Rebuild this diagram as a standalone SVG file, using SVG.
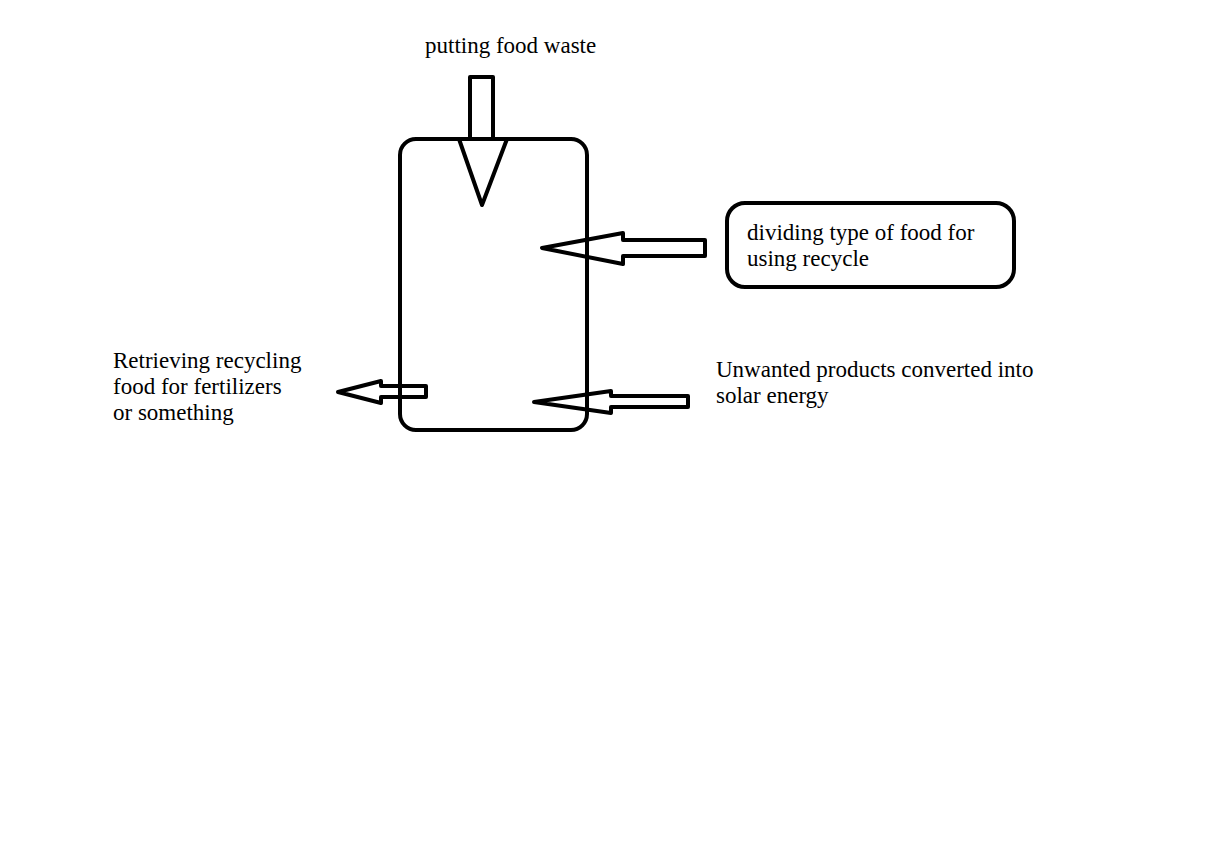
<svg xmlns="http://www.w3.org/2000/svg" width="1229" height="849" viewBox="0 0 1229 849">
<style>
.s{fill:none;stroke:#000;stroke-width:4;stroke-linejoin:round;stroke-linecap:round}
text{font-family:"Liberation Serif","Times New Roman",serif;font-size:23px;fill:#000}
</style>
<rect width="1229" height="849" fill="#fff"/>
<g id="container">
<rect class="s" x="400" y="139" width="187" height="291" rx="16" ry="16"/>
</g>
<g id="info-box">
<rect class="s" x="727" y="203" width="287" height="84" rx="18" ry="18"/>
<text x="747" y="240">dividing type of food for</text>
<text x="747" y="266">using recycle</text>
</g>
<g id="label-top"><text x="425" y="53">putting food waste</text></g>
<g id="label-left">
<text x="113" y="368">Retrieving recycling</text>
<text x="113" y="394">food for fertilizers</text>
<text x="113" y="420">or something</text>
</g>
<g id="label-right">
<text x="716" y="377">Unwanted products converted into</text>
<text x="716" y="403">solar energy</text>
</g>
<g id="connectors">
<path class="s" d="M470,139 V77 H493 V139"/>
<path class="s" d="M459,139 L482,205 L507,139"/>
<path class="s" d="M705,240 H623 V233 L542,248 L623,264 V256 H705 Z"/>
<path class="s" d="M426,386 H381 V381 L338,392 L381,403 V397 H426 Z"/>
<path class="s" d="M688,396 H611 V391 L534,402 L611,413 V407 H688 Z"/>
</g>
</svg>
